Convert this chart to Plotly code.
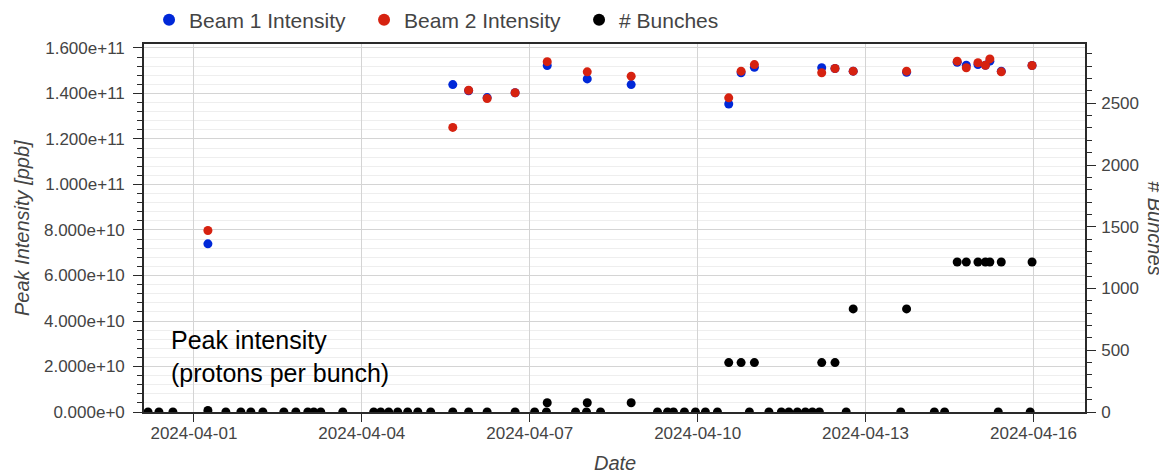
import plotly.graph_objects as go

# ---- data ----
int_dates = [
    "2024-04-01 06:00", "2024-04-05 15:00", "2024-04-05 21:48", "2024-04-06 05:44",
    "2024-04-06 17:44", "2024-04-07 07:30", "2024-04-08 00:40", "2024-04-08 19:30",
    "2024-04-10 13:20", "2024-04-10 18:38", "2024-04-11 00:20", "2024-04-12 05:12",
    "2024-04-12 10:54", "2024-04-12 18:42", "2024-04-13 17:36", "2024-04-14 15:18",
    "2024-04-14 19:12", "2024-04-15 00:12", "2024-04-15 03:24", "2024-04-15 05:18",
    "2024-04-15 10:12", "2024-04-15 23:24",
]
beam1 = [
    7.39e10, 1.439e11, 1.412e11, 1.382e11, 1.403e11, 1.523e11, 1.464e11, 1.439e11,
    1.354e11, 1.491e11, 1.515e11, 1.513e11, 1.510e11, 1.498e11, 1.493e11, 1.537e11,
    1.524e11, 1.527e11, 1.524e11, 1.542e11, 1.498e11, 1.523e11,
]
beam2 = [
    7.98e10, 1.251e11, 1.414e11, 1.378e11, 1.403e11, 1.540e11, 1.495e11, 1.476e11,
    1.381e11, 1.498e11, 1.527e11, 1.491e11, 1.510e11, 1.498e11, 1.498e11, 1.542e11,
    1.513e11, 1.535e11, 1.524e11, 1.552e11, 1.495e11, 1.523e11,
]

bunch_dates = [
    "2024-03-31 04:20", "2024-03-31 09:00", "2024-03-31 15:00", "2024-04-01 06:00",
    "2024-04-01 13:42", "2024-04-01 20:08", "2024-04-02 00:25", "2024-04-02 05:34",
    "2024-04-02 14:34", "2024-04-02 19:42", "2024-04-03 00:50", "2024-04-03 03:24",
    "2024-04-03 06:24", "2024-04-03 15:50", "2024-04-04 05:06", "2024-04-04 08:06",
    "2024-04-04 11:32", "2024-04-04 15:24", "2024-04-04 19:40", "2024-04-05 00:00",
    "2024-04-05 05:32", "2024-04-05 15:00", "2024-04-05 21:48", "2024-04-06 05:44",
    "2024-04-06 17:44", "2024-04-07 02:06", "2024-04-07 07:10", "2024-04-07 07:30",
    "2024-04-07 19:38", "2024-04-08 00:20", "2024-04-08 00:40", "2024-04-08 06:22",
    "2024-04-08 19:30", "2024-04-09 06:48", "2024-04-09 11:06", "2024-04-09 13:38",
    "2024-04-09 18:20", "2024-04-09 23:04", "2024-04-10 03:20", "2024-04-10 08:30",
    "2024-04-10 13:20", "2024-04-10 18:38", "2024-04-10 22:12", "2024-04-11 00:20",
    "2024-04-11 06:34", "2024-04-11 11:54", "2024-04-11 15:06", "2024-04-11 18:46",
    "2024-04-11 22:12", "2024-04-12 01:12", "2024-04-12 04:12", "2024-04-12 05:12",
    "2024-04-12 10:54", "2024-04-12 15:42", "2024-04-12 18:42", "2024-04-13 15:06",
    "2024-04-13 17:36", "2024-04-14 05:30", "2024-04-14 09:54", "2024-04-14 15:18",
    "2024-04-14 19:12", "2024-04-15 00:12", "2024-04-15 03:24", "2024-04-15 05:18",
    "2024-04-15 08:54", "2024-04-15 10:12", "2024-04-15 22:36", "2024-04-15 23:24",
]
bunches = [
    0, 0, 0, 12,
    0, 0, 0, 0,
    0, 0, 0, 0,
    0, 0, 0, 0,
    0, 0, 0, 0,
    0, 0, 0, 0,
    0, 0, 0, 75,
    0, 0, 75, 0,
    75, 0, 0, 0,
    0, 0, 0, 0,
    400, 400, 0, 400,
    0, 0, 0, 0,
    0, 0, 0, 400,
    400, 0, 835, 0,
    835, 0, 0, 1215,
    1215, 1215, 1215, 1215,
    0, 1215, 0, 1215,
]

x_ticks = ["2024-04-01", "2024-04-04", "2024-04-07", "2024-04-10", "2024-04-13", "2024-04-16"]
x_range = ["2024-03-31 02:36", "2024-04-16 22:06"]
y_range = [0, 1.6175e11]
y2_range = [0, 2980]

# ---- styles ----
FONT = "Liberation Sans, Arial, Helvetica, sans-serif"
GREY = "#444444"
AXIS = "#2a2a2a"
BLUE = "#0028d8"
RED = "#d62210"

fig = go.Figure()
fig.add_trace(go.Scatter(x=int_dates, y=beam1, mode="markers", name="Beam 1 Intensity",
                         marker=dict(color=BLUE, size=9)))
fig.add_trace(go.Scatter(x=int_dates, y=beam2, mode="markers", name="Beam 2 Intensity",
                         marker=dict(color=RED, size=9)))
fig.add_trace(go.Scatter(x=bunch_dates, y=bunches, mode="markers", name="# Bunches",
                         marker=dict(color="#000000", size=9), yaxis="y2"))

# the page body adds an 8px offset, so the figure is 8px smaller and margins shifted
fig.update_layout(
    width=1159, height=465,
    margin=dict(l=136, r=82, t=36, b=61, autoexpand=False),
    paper_bgcolor="white", plot_bgcolor="white",
    font=dict(family=FONT, size=17, color=GREY),
    showlegend=True,
    legend=dict(orientation="h", xref="container", yref="container",
                x=0.1217, xanchor="left", y=0.974, yanchor="middle",
                font=dict(size=21, color=GREY), entrywidth=170, entrywidthmode="pixels",
                bgcolor="rgba(0,0,0,0)", itemsizing="constant"),
    xaxis=dict(type="date", range=x_range, tickvals=x_ticks, ticktext=x_ticks,
               ticks="outside", ticklen=8, tickwidth=1.2, tickcolor=AXIS,
               ticklabelstandoff=-3,
               showline=True, linecolor=AXIS, linewidth=1.6, mirror=True,
               showgrid=True, gridcolor="#d4d4d4", gridwidth=1, zeroline=False,
               tickfont=dict(size=17, color=GREY)),
    yaxis=dict(range=y_range, tick0=0, dtick=2e10, tickformat=".3e",
               ticks="outside", ticklen=9, tickwidth=1.2, tickcolor=AXIS,
               ticklabelstandoff=5,
               showline=True, linecolor=AXIS, linewidth=1.6, mirror=True,
               showgrid=True, gridcolor="#d4d4d4", gridwidth=1, zeroline=False,
               minor=dict(dtick=4e9, ticks="outside", ticklen=5, tickcolor=AXIS,
                          showgrid=True, gridcolor="#eeeeee", gridwidth=1),
               tickfont=dict(size=17, color=GREY)),
    yaxis2=dict(overlaying="y", side="right", range=y2_range, tick0=0, dtick=500,
                ticks="outside", ticklen=9, tickwidth=1.2, tickcolor=AXIS,
                ticklabelstandoff=2,
                showline=True, linecolor=AXIS, linewidth=1.6,
                showgrid=False, zeroline=False,
                minor=dict(dtick=100, ticks="outside", ticklen=5, tickcolor=AXIS, showgrid=False),
                tickfont=dict(size=17, color=GREY)),
    annotations=[
        dict(text="Peak intensity<br>(protons per bunch)", xref="paper", yref="paper",
             x=0.0265, y=0.152, xanchor="left", yanchor="middle", align="left",
             showarrow=False, font=dict(size=25, color="#000000", family=FONT)),
        dict(text="Date", xref="paper", yref="paper", x=0.5, y=-0.1388,
             xanchor="center", yanchor="middle", showarrow=False,
             font=dict(size=20, color=GREY, family=FONT, style="italic")),
        dict(text="Peak Intensity [ppb]", xref="paper", yref="paper", x=-0.1296, y=0.5,
             xanchor="center", yanchor="middle", textangle=-90, showarrow=False,
             font=dict(size=20, color=GREY, family=FONT, style="italic")),
        dict(text="# Bunches", xref="paper", yref="paper", x=1.0744, y=0.5,
             xanchor="center", yanchor="middle", textangle=90, showarrow=False,
             font=dict(size=20, color=GREY, family=FONT, style="italic")),
    ],
)

fig.write_html("out.html")
